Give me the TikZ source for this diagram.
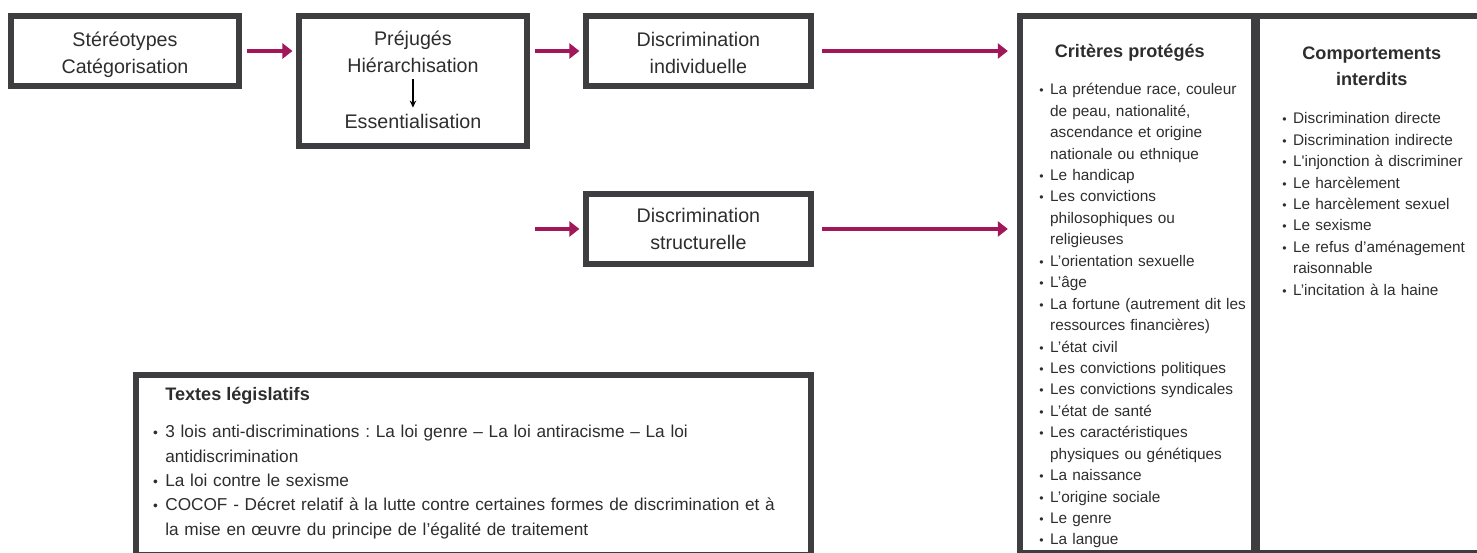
\documentclass[tikz,border=0pt]{standalone}
\usepackage{fontspec}
\setmainfont{Liberation Sans}
\usepackage{enumitem}
\usetikzlibrary{positioning,arrows.meta}
\definecolor{boxgray}{RGB}{62,62,64}
\definecolor{textgray}{RGB}{45,45,45}
\definecolor{flowred}{RGB}{162,22,90}
\frenchspacing

\begin{document}
\begin{tikzpicture}[x=0.02cm, y=-0.02cm, text=textgray,
    stagebox/.style={rectangle, draw=boxgray, line width=0.12cm, minimum width=4.56cm, minimum height=1.4cm,
                     align=center, font=\fontsize{11.2}{15.3}\selectfont},
    boxtext/.style={align=center, font=\fontsize{11.2}{15.3}\selectfont},
    titletext/.style={align=center, inner sep=0pt, font=\fontsize{10.3}{14.8}\selectfont\bfseries},
    listtext/.style={anchor=north west, inner sep=0pt, align=left},
    flow/.style={draw=flowred, line width=0.08cm, -{Triangle[length=0.2cm, width=0.3cm]}, shorten <=0.1cm, shorten >=0.07cm},
    flowlong/.style={flow, shorten <=0.16cm, shorten >=0.18cm},
    step arrow/.style={draw=black, line width=0.03cm, -{Stealth[length=0.14cm, width=0.13cm]}},]
    \useasboundingbox (0,0) rectangle (1477,552);
    \clip (0,0) rectangle (1477,552);
    % nodes
    \node[stagebox]      (stereo)   at (125,51)                                                    {\rule{0pt}{13pt}Stéréotypes\\Catégorisation};
    \node[stagebox, minimum height=2.6cm] (prejuges) [right=1.08cm of stereo.north east, anchor=north west] {};
    \node[stagebox, minimum width=4.5cm]  (indiv)    [right=1.06cm of prejuges.north east, anchor=north west] {\rule{0pt}{10.5pt}Discrimination\\individuelle};
    \node[stagebox, minimum width=4.5cm]  (struct)   [below=2.04cm of indiv]                     {Discrimination\\structurelle};
    \node[boxtext]       (hierarch) at ([yshift=-0.78cm]prejuges.north)                           {Préjugés\\Hiérarchisation};
    \node[boxtext]       (essent)   at ([yshift=0.56cm]prejuges.south)                            {Essentialisation};
    \node[stagebox, minimum width=4.68cm, minimum height=10.74cm] (criteres) [right=4.06cm of indiv.north east, anchor=north west] {};
    \node[stagebox, minimum width=5cm, minimum height=10.74cm]    (comport)  [right=-0.06cm of criteres.north east, anchor=north west] {};
    \node[stagebox, minimum width=13.5cm, minimum height=3.6cm]   (textes)   [below=2.1cm of struct.south east, anchor=north east] {};
    \coordinate[left=0.96cm of struct.west] (structin);
    % titles
    \node[titletext]     (crittitle) at ([xshift=-0.14cm, yshift=-0.8cm]criteres.north)          {Critères protégés};
    \node[titletext]     (comptitle) at ([xshift=2.36cm, yshift=-1.06cm]comport.north west)      {Comportements\\interdits};
    \node[titletext, anchor=west] (textitle) at ([xshift=0.64cm, yshift=-0.48cm]textes.north west) {Textes législatifs};
    % lists
    \node[listtext, text width=4.8cm, font=\fontsize{8.75}{12.2}\selectfont] (critlist) at ([xshift=0.32cm, yshift=-1.2cm]criteres.north west) {%
        \begin{itemize}[nosep, leftmargin=0.34cm, labelsep=0.13cm, label={\scalebox{0.8}{\textbullet}}]\raggedright
        \item La prétendue race, couleur\newline de peau, nationalité,\newline ascendance et origine\newline nationale ou ethnique
        \item Le handicap
        \item Les convictions\newline philosophiques ou\newline religieuses
        \item L’orientation sexuelle
        \item L’âge
        \item La fortune (autrement dit les\newline ressources financières)
        \item L’état civil
        \item Les convictions politiques
        \item Les convictions syndicales
        \item L’état de santé
        \item Les caractéristiques\newline physiques ou génétiques
        \item La naissance
        \item L’origine sociale
        \item Le genre
        \item La langue
        \end{itemize}};
    \node[listtext, text width=4.8cm, font=\fontsize{8.75}{12.2}\selectfont] (complist) at ([xshift=0.44cm, yshift=-1.78cm]comport.north west) {%
        \begin{itemize}[nosep, leftmargin=0.34cm, labelsep=0.13cm, label={\scalebox{0.8}{\textbullet}}]\raggedright
        \item Discrimination directe
        \item Discrimination indirecte
        \item L\textquotesingle injonction à discriminer
        \item Le harcèlement
        \item Le harcèlement sexuel
        \item Le sexisme
        \item Le refus d’aménagement\newline raisonnable
        \item L’incitation à la haine
        \end{itemize}};
    \node[listtext, text width=14cm, font=\fontsize{9.8}{13.9}\selectfont] (textlist) at ([xshift=0.26cm, yshift=-0.82cm]textes.north west) {%
        \begin{itemize}[nosep, leftmargin=0.38cm, labelsep=0.15cm, label={\scalebox{0.8}{\textbullet}}]\raggedright
        \item 3 lois anti-discriminations : La loi genre – La loi antiracisme – La loi\newline antidiscrimination
        \item La loi contre le sexisme
        \item COCOF - Décret relatif à la lutte contre certaines formes de discrimination et à\newline la mise en œuvre du principe de l’égalité de traitement
        \end{itemize}};
    % lines
    \draw[flow]     (stereo.east) -- (stereo.east -| prejuges.west);
    \draw[flow]     (indiv.west -| prejuges.east) -- (indiv.west);
    \draw[flow, shorten <=0pt] (structin) -- (struct.west);
    \draw[flowlong] (indiv.east) -- (indiv.east -| criteres.west);
    \draw[flowlong] (struct.east) -- (struct.east -| criteres.west);
    \draw[step arrow] (hierarch) -- (essent);
\end{tikzpicture}
\end{document}
